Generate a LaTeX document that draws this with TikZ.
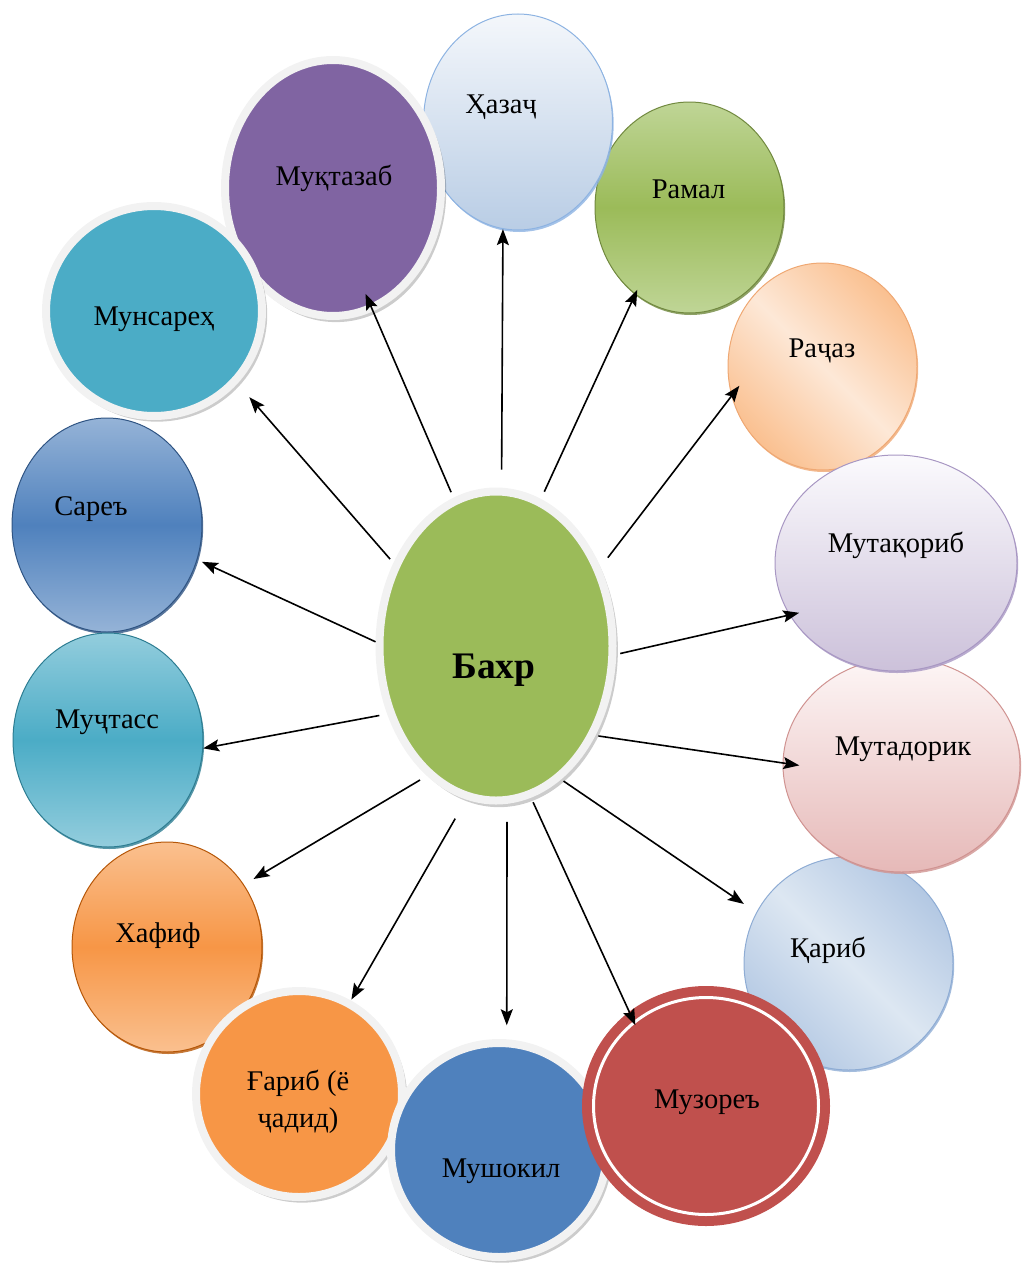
\documentclass[tikz,border=0pt]{standalone}
\usepackage{fontspec}
\setmainfont{Liberation Serif}
\usetikzlibrary{shapes.geometric,arrows.meta,shadows}

\definecolor{ringgray}{HTML}{F2F2F2}
\definecolor{hazajtop}{HTML}{F4F7FB}
\definecolor{hazajbot}{HTML}{B9CDE5}
\definecolor{hazajline}{HTML}{8DB3E2}
\definecolor{greenlite}{HTML}{BFD596}
\definecolor{greenmid}{HTML}{9BBB59}
\definecolor{greenedge}{HTML}{71893F}
\definecolor{peachdark}{HTML}{FAC090}
\definecolor{peachlite}{HTML}{FDE8D7}
\definecolor{peachedge}{HTML}{EFA873}
\definecolor{lilaclite}{HTML}{FBFAFD}
\definecolor{lilacdark}{HTML}{CCC1DA}
\definecolor{lilacedge}{HTML}{A897C3}
\definecolor{roselite}{HTML}{FDF6F6}
\definecolor{rosedark}{HTML}{E6B9B8}
\definecolor{roseedge}{HTML}{D09391}
\definecolor{skydark}{HTML}{B3C8E3}
\definecolor{skylite}{HTML}{DDE7F2}
\definecolor{skyedge}{HTML}{8EACD4}
\definecolor{brickred}{HTML}{C0504D}
\definecolor{steelblue}{HTML}{4F81BD}
\definecolor{steellite}{HTML}{95B3D7}
\definecolor{steeledge}{HTML}{2F5483}
\definecolor{orangemid}{HTML}{F79646}
\definecolor{orangelite}{HTML}{FAC08F}
\definecolor{orangeedge}{HTML}{B65708}
\definecolor{tealmid}{HTML}{4BACC6}
\definecolor{teallite}{HTML}{93CDDD}
\definecolor{tealedge}{HTML}{2D7D92}
\definecolor{violet}{HTML}{8064A2}

\tikzset{
  oval/.style={ellipse, inner sep=0pt},
  ringed/.style={oval, fill=#1, draw=ringgray, line width=8pt,
    drop shadow={shadow xshift=3pt, shadow yshift=-3.5pt, shadow scale=1.02,
      fill=black, opacity=0.2}},
  glossy/.style={oval, draw=#1, line width=1pt,
    drop shadow={shadow xshift=1.2pt, shadow yshift=-2pt, fill=#1, opacity=0.8}},
  lbl/.style={font=\fontsize{28.5}{37}\selectfont, anchor=base, inner sep=0pt},
  arr/.style={line width=1.6pt, -{Stealth[length=16pt, width=12pt, inset=3pt]}},
}

\begin{document}
\begin{tikzpicture}[x=1pt, y=-1pt]
\useasboundingbox (0,0) rectangle (1021,1263);

% outer ring of metres, back to front
\node[glossy=skyedge, left color=skydark, right color=skydark, middle color=skylite,
  shading angle=-45, minimum width=209pt, minimum height=213pt] (qarib) at (848.5,963.5) {};
\node[lbl] (qaribT) at (828,957) {Қариб};

\node[glossy=roseedge, top color=roselite, bottom color=rosedark,
  minimum width=237pt, minimum height=214pt] (mutad) at (901.5,765) {};
\node[lbl] (mutadT) at (903,755) {Мутадорик};

\node[glossy=peachedge, left color=peachdark, right color=peachdark, middle color=peachlite,
  shading angle=-45, minimum width=189pt, minimum height=207pt] (rajaz) at (822.5,366.5) {};
\node[lbl] (rajazT) at (822,357) {Раҷаз};

\node[glossy=lilacedge, top color=lilaclite, bottom color=lilacdark,
  minimum width=242pt, minimum height=216pt] (mutaq) at (896,563) {};
\node[lbl] (mutaqT) at (896,552) {Мутақориб};

\node[glossy=greenedge, top color=greenlite, bottom color=greenlite, middle color=greenmid,
  minimum width=189pt, minimum height=211pt] (ramal) at (689.5,207.5) {};
\node[lbl] (ramalT) at (688.5,198) {Рамал};

\node[glossy=hazajline, top color=hazajtop, bottom color=hazajbot,
  minimum width=189pt, minimum height=216pt] (hazaj) at (518,122) {};
\node[lbl] (hazajT) at (501,113) {Ҳазаҷ};

\node[ringed=violet, minimum width=216pt, minimum height=256pt] (muqtazab) at (333,188) {};
\node[lbl] (muqtazabT) at (334,185) {Муқтазаб};

\node[glossy=steeledge, top color=steellite, bottom color=steellite, middle color=steelblue,
  minimum width=190pt, minimum height=214pt] (sare) at (107,525) {};
\node[lbl] (sareT) at (91,515) {Сареъ};

\node[glossy=tealedge, top color=teallite, bottom color=teallite, middle color=tealmid,
  minimum width=190pt, minimum height=214pt] (mujtass) at (108,740) {};
\node[lbl] (mujtassT) at (107,728) {Муҷтасс};

\node[ringed=tealmid, minimum width=216pt, minimum height=210pt] (munsareh) at (154,311) {};
\node[lbl] (munsarehT) at (154,325) {Мунсареҳ};

\node[glossy=orangeedge, top color=orangelite, bottom color=orangelite, middle color=orangemid,
  minimum width=190pt, minimum height=210pt] (khafif) at (167,947) {};
\node[lbl] (khafifT) at (158,942) {Хафиф};

\node[ringed=orangemid, minimum width=206pt, minimum height=206pt] (gharib) at (299,1094) {};
\node[lbl, anchor=center, align=center] (gharibT) at (298,1102) {Ғариб (ё\\ҷадид)};

\node[ringed=steelblue, minimum width=216pt, minimum height=214pt] (mushokil) at (499,1150) {};
\node[lbl] (mushokilT) at (501,1177) {Мушокил};

\node[oval, fill=brickred, draw=brickred, line width=10pt, double=white, double distance=3pt,
  minimum width=225pt, minimum height=217pt] (muzore) at (706,1106) {};
\node[lbl] (muzoreT) at (707,1108) {Музореъ};

% the hub
\node[ringed=greenmid, minimum width=233pt, minimum height=309pt] (bahr) at (496,646) {};
\node[lbl, font=\bfseries\fontsize{37.5}{42}\selectfont] (bahrT) at (494,678) {Бахр};

% spokes from the hub to every metre
\draw[arr, shorten <=18pt] (bahr.88) -- (hazaj.262);
\draw[arr, shorten <=8pt, shorten >=-5pt] (bahr.73) -- (ramal.238);
\draw[arr, shorten <=12pt, shorten >=-13pt] (bahr.37) -- (rajaz.198);
\draw[arr, shorten <=4pt, shorten >=-10pt] (bahr.356) -- (mutaq.206);
\draw[arr, shorten <=3pt, shorten >=-17pt] (bahr.318) -- (mutad.179);
\draw[arr, shorten <=3pt, shorten >=15pt] (bahr.296) -- (qarib.151);
\draw[arr, shorten <=5pt, shorten >=-8pt] (bahr.283) -- (muzore.130);
\draw[arr, shorten <=18pt, shorten >=14pt] (bahr.274) -- (mushokil.86);
\draw[arr, shorten <=22pt, shorten >=1pt] (bahr.259) -- (gharib.61);
\draw[arr, shorten <=8pt, shorten >=11pt] (bahr.242) -- (khafif.39);
\draw[arr, shorten <=8pt] (bahr.212) -- (mujtass.355);
\draw[arr, shorten >=5pt] (bahr.178) -- (sare.339);
\draw[arr, shorten <=5pt, shorten >=18pt] (bahr.141) -- (munsareh.319);
\draw[arr, shorten <=6pt, shorten >=-19pt] (bahr.106) -- (muqtazab.288);
\end{tikzpicture}
\end{document}
